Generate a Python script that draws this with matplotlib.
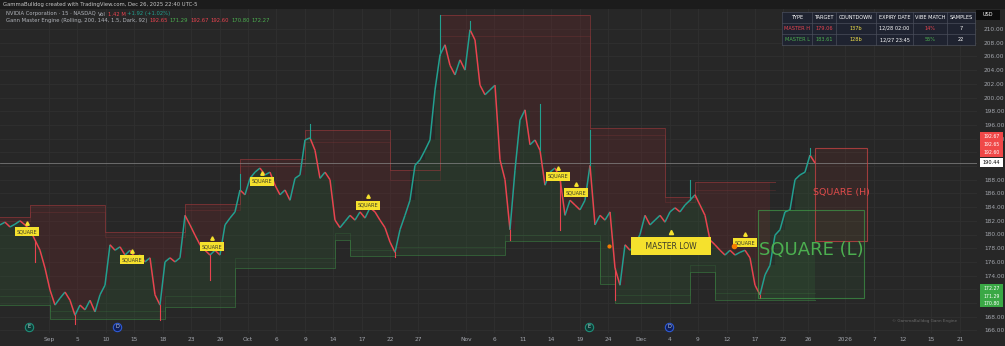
import numpy as np
import matplotlib.pyplot as plt
from matplotlib.patches import Rectangle
from matplotlib.collections import LineCollection

# ---- data (one close every ~5 px, NVDA 15m) ----
close = [181.4, 181.8, 181.1, 181.5, 182.0, 181.4, 180.7, 179.2, 177.7, 175.1,
         171.9, 169.7, 170.7, 171.6, 170.4, 168.2, 169.7, 169.0, 170.4, 168.7,
         171.2, 172.6, 178.5, 177.7, 178.2, 177.0, 177.7, 176.6, 177.0, 176.0,
         176.6, 171.2, 169.7, 176.0, 176.6, 176.0, 176.6, 182.8, 181.4, 179.9,
         178.5, 177.7, 177.0, 177.7, 177.0, 181.4, 182.4, 183.3, 186.5, 185.8,
         188.2, 189.1, 189.7, 188.7, 189.1, 187.2, 185.8, 186.5, 185.0, 188.2,
         188.7, 193.8, 194.1, 192.3, 188.2, 189.1, 188.0, 182.1, 181.0, 181.9,
         182.8, 182.1, 183.3, 182.4, 183.9, 183.3, 182.1, 181.0, 178.9, 177.4,
         180.7, 182.8, 185.0, 190.1, 190.9, 192.3, 193.8, 201.1, 206.2, 207.7,
         204.7, 203.3, 205.5, 204.0, 209.9, 208.4, 201.8, 200.4, 201.1, 201.8,
         190.9, 188.0, 180.7, 189.4, 196.7, 198.2, 193.1, 193.8, 192.3, 187.2,
         189.1, 189.7, 188.2, 182.8, 185.0, 184.3, 183.6, 185.0, 190.1, 181.4,
         182.8, 182.1, 183.3, 175.1, 172.6, 178.5, 177.7, 178.5, 180.0, 182.8,
         181.4, 182.1, 182.8, 181.8, 183.3, 183.9, 183.3, 184.3, 185.0, 185.8,
         184.3, 182.8, 179.2, 178.5, 177.7, 177.0, 177.7, 177.0, 177.4, 177.7,
         176.6, 172.6, 171.2, 174.1, 175.5, 179.9, 180.7, 183.3, 183.6, 188.0,
         188.7, 189.1, 191.6, 190.44]

# notable wicks (bar, extreme price) seen on the chart
wick_bar = [7, 15, 32, 42, 48, 62, 79, 88, 94, 102, 108, 112, 118, 123, 138, 152, 162]
wick_px = [176.0, 166.9, 167.5, 173.4, 188.9, 196.2, 176.7, 212.0, 211.2, 179.2, 199.0,
           180.7, 195.3, 170.4, 188.0, 170.8, 192.7]

# upper (master H) and lower (master L) rolling bands: breakpoints in bars
red_breaks = [0, 6, 21, 37, 48, 61, 78, 88, 118, 133, 139, 154]
red_outer = [182.6, 184.3, 180.4, 184.5, 191.0, 195.3, 189.4, 212.0, 195.5, 185.5, 187.7]
red_inner = [182.0, 183.3, 179.6, 183.6, 190.0, 193.5, 188.0, 209.0, 194.5, 184.7, 186.5]

green_breaks = [0, 10, 33, 47, 67, 70, 79, 101, 120, 123, 138, 143, 164]
green_outer = [169.7, 167.7, 169.4, 175.1, 179.2, 176.8, 177.0, 179.0, 172.8, 170.0, 174.5, 170.4]
green_inner = [171.0, 168.8, 171.0, 176.5, 180.2, 177.8, 178.2, 180.0, 174.0, 171.2, 175.5, 171.5]

last_price = 190.44
square_h = (179.06, 192.65)
square_l = (170.80, 183.61)

tick_pos = [9.8, 15.4, 21.2, 26.8, 32.6, 38.2, 44, 49.6, 55.2, 61, 66.6, 72.4, 78, 83.6,
            93.2, 98.8, 104.6, 110.2, 116, 121.6, 128.2, 134, 139.6, 145.4, 151, 156.6,
            161.6, 169, 174.8, 180.6, 186.2, 192]
tick_lab = ['Sep', '5', '10', '15', '18', '23', '26', 'Oct', '6', '9', '14', '17', '22', '27',
            'Nov', '6', '11', '14', '19', '24', 'Dec', '4', '9', '12', '17', '22',
            '26', '2026', '7', '12', '15', '21']

squares = [(5.4, 180.4), (26.4, 176.3), (42.4, 178.2), (52.4, 187.8), (73.6, 184.3),
           (111.6, 188.5), (115.2, 186.1), (149, 178.8)]
master_low = (134.2, 178.3)
events = [(5.8, 'E'), (23.4, 'D'), (117.8, 'E'), (133.8, 'D')]

BG = '#272727'
UP = '#22a08f'
DN = '#e8434f'
TXT = '#a3a6ad'

W, H = 1005, 346
fig = plt.figure(figsize=(W / 100, H / 100), dpi=100, facecolor=BG)
ax = fig.add_axes([0, 13 / H, 977 / W, 333 / H])
ax.set_facecolor(BG)
ymax = 210 + 29 / 6.85
ymin = 210 - (333 - 29) / 6.85
ax.set_ylim(ymin, ymax)
ax.set_xlim(0, 195.4)

# grid
for t in tick_pos:
    ax.axvline(t, color='#303030', lw=0.6, zorder=0)
for p in range(166, 212, 2):
    ax.axhline(p, color='#303030', lw=0.6, zorder=0)

x = np.arange(len(close))
c = np.array(close)


def step_series(breaks, levels):
    arr = np.full(len(close), np.nan)
    for i in range(len(levels)):
        a, b = breaks[i], min(breaks[i + 1], len(close) - 1)
        arr[a:b + 1] = levels[i]
    return arr


ro = step_series(red_breaks, red_outer)
ri = step_series(red_breaks, red_inner)
go = step_series(green_breaks, green_outer)
gi = step_series(green_breaks, green_inner)

ax.fill_between(x, ro, c, where=ro > c, color='#6a2a2c', alpha=0.32, lw=0, step='post', zorder=1)
ax.fill_between(x, go, c, where=go < c, color='#2f5a33', alpha=0.28, lw=0, step='post', zorder=1)
ax.step(x, ro, where='post', color='#a33a3d', lw=0.7, alpha=0.55, zorder=2)
ax.step(x, ri, where='post', color='#a33a3d', lw=0.5, alpha=0.3, zorder=2)
ax.step(x, go, where='post', color='#3d8a45', lw=0.7, alpha=0.55, zorder=2)
ax.step(x, gi, where='post', color='#3d8a45', lw=0.5, alpha=0.3, zorder=2)

# price path coloured by direction, plus wicks
segs = [[(x[i - 1], c[i - 1]), (x[i], c[i])] for i in range(1, len(c))]
cols = [UP if c[i] >= c[i - 1] else DN for i in range(1, len(c))]
ax.add_collection(LineCollection(segs, colors=cols, linewidths=1.1, zorder=4))
for b, wp in zip(wick_bar, wick_px):
    col = DN if wp < c[b] else UP
    ax.plot([b, b], [c[b], wp], color=col, lw=0.8, zorder=4)

ax.axhline(last_price, color='#8a8a8a', lw=0.6, alpha=0.8, zorder=3)

# square boxes
n = len(close) - 1
ax.add_patch(Rectangle((n, square_h[0]), 10.4, square_h[1] - square_h[0],
                       facecolor='#c0392b', alpha=0.1, edgecolor='none', zorder=2))
ax.add_patch(Rectangle((n, square_h[0]), 10.4, square_h[1] - square_h[0],
                       facecolor='none', edgecolor='#c94444', lw=0.8, alpha=0.75, zorder=5))
ax.text(n + 5.2, 186.2, 'SQUARE (H)', color='#e04b4b', fontsize=6.8, ha='center', va='center', zorder=6)
ax.add_patch(Rectangle((151.6, square_l[0]), 21.2, square_l[1] - square_l[0],
                       facecolor='#3f9a47', alpha=0.08, edgecolor='none', zorder=2))
ax.add_patch(Rectangle((151.6, square_l[0]), 21.2, square_l[1] - square_l[0],
                       facecolor='none', edgecolor='#3f9a47', lw=0.8, alpha=0.7, zorder=5))
ax.text(162.2, 177.8, 'SQUARE (L)', color='#4caf50', fontsize=13, ha='center', va='center', zorder=6)

# yellow labels
for sx, sy in squares:
    ax.text(sx, sy, 'SQUARE', fontsize=3.6, color='#3a3a2a', ha='center', va='center', zorder=7,
            bbox=dict(boxstyle='square,pad=0.4', fc='#f5e12d', ec='none'))
    ax.plot(sx, sy + 1.25, '^', ms=2.5, color='#f5e12d', zorder=7)
ax.text(master_low[0], master_low[1], '    MASTER LOW    ', fontsize=5.5, color='#3a3a2a',
        ha='center', va='center', zorder=7, bbox=dict(boxstyle='square,pad=0.6', fc='#f5e12d', ec='none'))
ax.plot(master_low[0], master_low[1] + 2.0, '^', ms=3, color='#f5e12d', zorder=7)
ax.plot(master_low[0] + 12.5, master_low[1], 'o', ms=3, color='#f57c00', zorder=8)
ax.plot(master_low[0] - 12.5, master_low[1], 'o', ms=2, color='#f57c00', zorder=8)

# event markers
for ex, lab in events:
    if lab == 'E':
        fc, ec = '#0d3b35', '#1f8f7a'
    else:
        fc, ec = '#0f1f5c', '#2f5bd6'
    ax.plot(ex, 166.5, 'o', ms=6, mfc=fc, mec=ec, mew=0.8, zorder=6)
    ax.text(ex, 166.5, lab, fontsize=3.5, color='#cfd8dc', ha='center', va='center', zorder=7)

ax.text(191.5, 167.3, '© GammaBulldog Gann Engine', fontsize=3, color='#6b6b6b', ha='right', va='center')

# axes (labels hidden where the price tags sit on the scale)
hidden = [170, 172, 190, 192]
ax.set_xticks(tick_pos)
ax.set_xticklabels(tick_lab)
ax.tick_params(axis='x', length=0, pad=3, labelsize=4.2, colors=TXT)
ax.yaxis.tick_right()
ax.set_yticks(range(166, 212, 2))
ax.set_yticklabels(['' if p in hidden else '%.2f' % p for p in range(166, 212, 2)])
ax.tick_params(axis='y', length=0, pad=5, labelsize=4.2, colors=TXT)
ax.spines[:].set_visible(False)


def fx(px):
    return px / W


def fy(py):
    return 1 - py / H


# header strip
fig.patches.append(Rectangle((0, fy(9)), 1, 9 / H, transform=fig.transFigure,
                             facecolor='#1c1c1c', edgecolor='none', zorder=0))
fig.text(fx(3), fy(4.5), 'GammaBulldog created with TradingView.com, Dec 26, 2025 22:40 UTC-5',
         fontsize=3.8, color='#c8c8c8', va='center')


# legend lines
def run_text(px, py, parts, size=3.8):
    r = fig.canvas.get_renderer()
    xx = px
    for s, col in parts:
        t = fig.text(fx(xx), fy(py), s, fontsize=size, color=col, va='center')
        bb = t.get_window_extent(renderer=r)
        xx += bb.width + 2


run_text(6, 14, [('NVIDIA Corporation · 15 · NASDAQ', '#b0b3ba'), ('Vol', '#b0b3ba'),
                 ('1.42 M', DN), ('+1.92 (+1.02%)', UP)])
run_text(6, 20.5, [('Gann Master Engine (Rolling, 200, 144, 1.5, Dark, 92)', '#b0b3ba'),
                   ('192.65', DN), ('171.29', '#4caf50'), ('192.67', DN), ('192.60', DN),
                   ('170.80', '#4caf50'), ('172.27', '#4caf50')])

# info table
cols_x = [782, 812, 836, 876, 913, 947, 975]
heads = ['TYPE', 'TARGET', 'COUNTDOWN', 'EXPIRY DATE', 'VIBE MATCH', 'SAMPLES']
row_h = ['MASTER H', '179.06', '137b', '12/28 02:00', '14%', '7']
row_l = ['MASTER L', '183.61', '128b', '12/27 23:45', '55%', '22']
col_h = [DN, DN, '#f2e24a', 'white', DN, 'white']
col_l = ['#4caf50', '#4caf50', '#f2e24a', 'white', '#4caf50', 'white']
rows_y = [12, 23, 34, 45]
fig.patches.append(Rectangle((fx(782), fy(45)), fx(975 - 782), 33 / H, transform=fig.transFigure,
                             facecolor='#1f2330', edgecolor='none', zorder=5))
for yy in rows_y:
    fig.add_artist(plt.Line2D([fx(782), fx(975)], [fy(yy), fy(yy)], color='#4a4e5a', lw=0.5, zorder=6))
for xx in cols_x:
    fig.add_artist(plt.Line2D([fx(xx), fx(xx)], [fy(12), fy(45)], color='#4a4e5a', lw=0.5, zorder=6))
for k in range(6):
    cx = fx((cols_x[k] + cols_x[k + 1]) / 2)
    fig.text(cx, fy(17.5), heads[k], fontsize=3.6, color='white', ha='center', va='center', zorder=7)
    fig.text(cx, fy(28.5), row_h[k], fontsize=3.6, color=col_h[k], ha='center', va='center', zorder=7)
    fig.text(cx, fy(39.5), row_l[k], fontsize=3.6, color=col_l[k], ha='center', va='center', zorder=7)

# price scale tags
fig.patches.append(Rectangle((fx(976), fy(20)), fx(24), 10 / H, transform=fig.transFigure,
                             facecolor='#0c0c0c', edgecolor='none', zorder=5))
fig.text(fx(988), fy(15), 'USD', fontsize=3.6, color='white', ha='center', va='center', zorder=6)

fig.patches.append(Rectangle((fx(980), fy(157)), fx(23), 25 / H, transform=fig.transFigure,
                             facecolor='#f04848', edgecolor='none', zorder=5))
for v, yy in zip(['192.67', '192.65', '192.60'], [136, 144, 152]):
    fig.text(fx(991.5), fy(yy), v, fontsize=3.3, color='white', ha='center', va='center', zorder=6)
fig.patches.append(Rectangle((fx(980), fy(167)), fx(23), 9 / H, transform=fig.transFigure,
                             facecolor='white', edgecolor='none', zorder=5))
fig.text(fx(991.5), fy(162.5), '%.2f' % last_price, fontsize=3.6, color='black', ha='center',
         va='center', zorder=6)
fig.patches.append(Rectangle((fx(980), fy(307)), fx(23), 23 / H, transform=fig.transFigure,
                             facecolor='#3aa845', edgecolor='none', zorder=5))
for v, yy in zip(['172.27', '171.29', '170.80'], [288.5, 296, 303.5]):
    fig.text(fx(991.5), fy(yy), v, fontsize=3.3, color='white', ha='center', va='center', zorder=6)

fig.savefig('out.png', dpi=100, facecolor=BG)
